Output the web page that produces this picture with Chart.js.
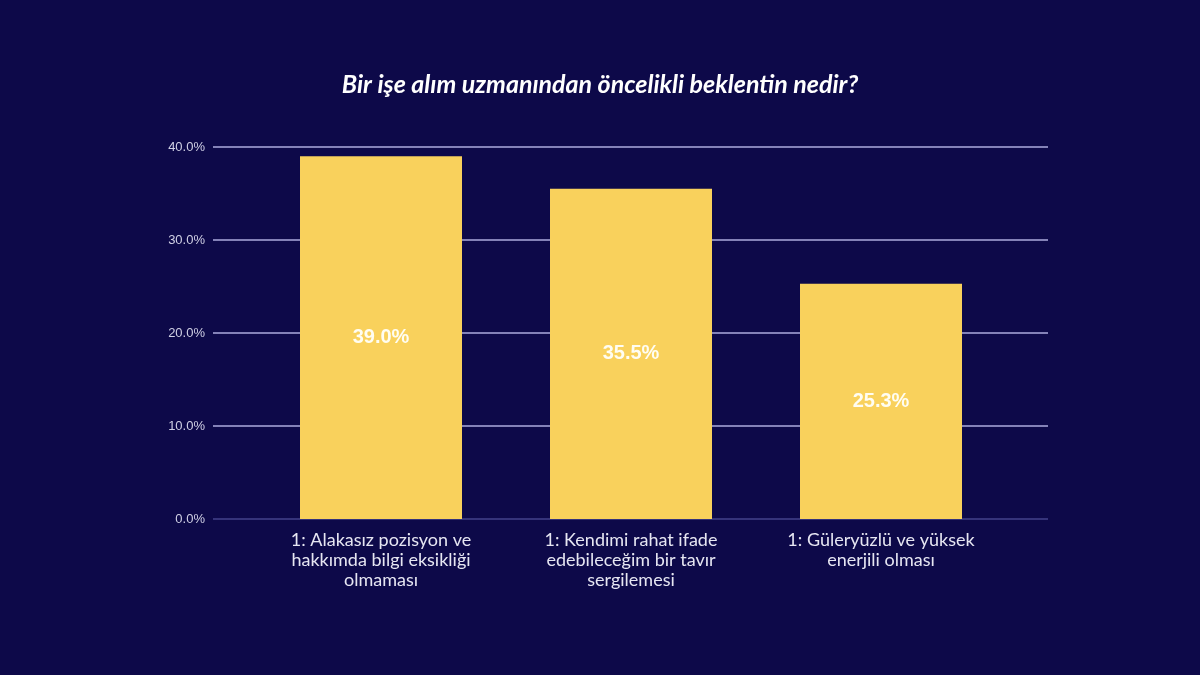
<!DOCTYPE html>
<html>
<head>
<meta charset="utf-8">
<script src="https://cdn.jsdelivr.net/npm/chart.js@4/dist/chart.umd.min.js"></script>
<style>
  html, body { margin: 0; padding: 0; background: #0d0949; }
  #wrap { width: 1200px; height: 675px; }
</style>
</head>
<body>
<div id="wrap"><canvas id="c" width="1200" height="675"></canvas></div>
<script>
const titleText = 'Bir işe alım uzmanından öncelikli beklentin nedir?';
const categories = [
  ['1: Alakasız pozisyon ve', 'hakkımda bilgi eksikliği', 'olmaması'],
  ['1: Kendimi rahat ifade', 'edebileceğim bir tavır', 'sergilemesi'],
  ['1: Güleryüzlü ve yüksek', 'enerjili olması']
];
const values = [39.0, 35.5, 25.3];
const yTicks = [0, 10, 20, 30, 40];

const BG = '#0d0949';
const BAR = '#f9d15c';

const bgPlugin = {
  id: 'bg',
  beforeDraw(chart) {
    const ctx = chart.ctx;
    ctx.save();
    ctx.fillStyle = BG;
    ctx.fillRect(0, 0, chart.width, chart.height);
    ctx.restore();
  }
};

const gridPlugin = {
  id: 'wideGrid',
  beforeDatasetsDraw(chart) {
    const ctx = chart.ctx;
    const ys = chart.scales.y;
    const a = chart.chartArea;
    ctx.save();
    ys.ticks.forEach((t, i) => {
      const y = Math.round(ys.getPixelForTick(i));
      ctx.beginPath();
      ctx.lineWidth = 2;
      ctx.strokeStyle = t.value === 0 ? '#35337a' : '#8482b8';
      ctx.moveTo(a.left - 43, y);
      ctx.lineTo(a.right + 42, y);
      ctx.stroke();
    });
    ctx.restore();
  }
};

const labelPlugin = {
  id: 'barLabels',
  afterDatasetsDraw(chart) {
    const ctx = chart.ctx;
    const meta = chart.getDatasetMeta(0);
    ctx.save();
    ctx.fillStyle = '#fffdf2';
    ctx.font = 'bold 20px "Liberation Sans", Arial, sans-serif';
    ctx.textAlign = 'center';
    ctx.textBaseline = 'middle';
    meta.data.forEach((bar, i) => {
      const v = chart.data.datasets[0].data[i];
      ctx.fillText(v.toFixed(1) + '%', bar.x, (bar.y + bar.base) / 2);
    });
    ctx.restore();
  }
};

new Chart(document.getElementById('c'), {
  type: 'bar',
  data: {
    labels: categories,
    datasets: [{
      data: values,
      backgroundColor: BAR,
      borderWidth: 0,
      barPercentage: 0.648,
      categoryPercentage: 1.0
    }]
  },
  options: {
    responsive: false,
    animation: false,
    devicePixelRatio: 1,
    layout: { padding: 0 },
    plugins: {
      legend: { display: false },
      tooltip: { enabled: false },
      title: {
        display: true,
        text: titleText,
        color: '#ffffff',
        font: { family: 'Lato, "Open Sans", sans-serif', size: 25, weight: 'bold', style: 'italic', lineHeight: 1.2 },
        padding: { top: 70, bottom: 47 }
      }
    },
    scales: {
      x: {
        grid: { display: false, drawTicks: false },
        border: { display: false },
        ticks: {
          color: '#e6e6f2',
          font: { family: 'Lato, "Open Sans", sans-serif', size: 18, lineHeight: 1.12 },
          padding: 11,
          maxRotation: 0,
          autoSkip: false
        },
        afterFit(scale) { scale.height = 156; }
      },
      y: {
        min: 0,
        max: 40,
        afterBuildTicks(scale) { scale.ticks = yTicks.map(v => ({ value: v })); },
        grid: { display: false, drawTicks: false },
        border: { display: false },
        ticks: {
          color: '#cfcfe4',
          font: { family: '"Liberation Sans", Arial, sans-serif', size: 13 },
          padding: 51,
          callback: v => Number(v).toFixed(1) + '%'
        },
        afterFit(scale) { scale.width = 256; }
      },
      yPad: {
        position: 'right',
        display: true,
        grid: { display: false, drawTicks: false },
        border: { display: false },
        ticks: { display: false },
        afterFit(scale) { scale.width = 194; }
      }
    }
  },
  plugins: [bgPlugin, gridPlugin, labelPlugin]
});
</script>
</body>
</html>
